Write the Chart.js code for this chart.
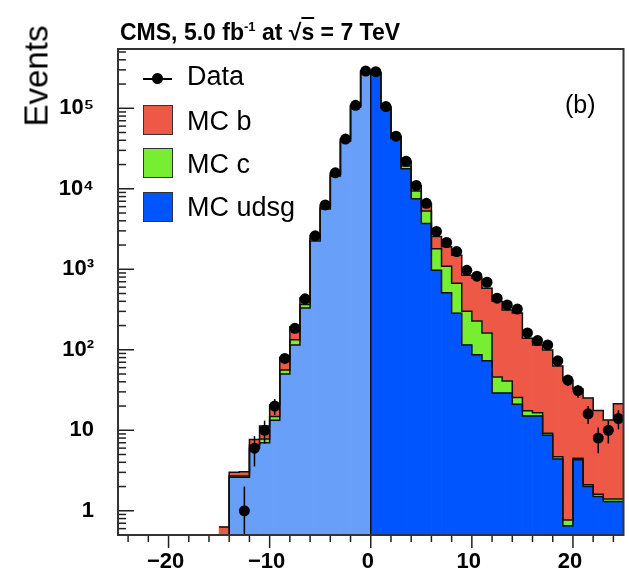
<!DOCTYPE html>
<html><head><meta charset="utf-8">
<script src="https://cdn.jsdelivr.net/npm/chart.js@4/dist/chart.umd.min.js"></script>
<style>
html,body{margin:0;padding:0;background:#fff;}
#wrap{position:relative;width:629px;height:574px;overflow:hidden;font-family:"Liberation Sans",Arial,Helvetica,sans-serif;color:#000;}
canvas{position:absolute;left:0;top:0;}
.t{position:absolute;white-space:nowrap;line-height:1;}
.box{position:absolute;width:28px;height:28px;border:1px solid #333;}
</style></head><body>
<div id="wrap">
<canvas id="c" width="629" height="574"></canvas>
<div class="t" style="left:120px;top:20px;font-weight:bold;font-size:23px;">CMS, 5.0 fb<sup style="font-size:13px;vertical-align:9px;">-1</sup> at √<span style="text-decoration:overline;">s</span> = 7 TeV</div>
<div class="t" style="left:36px;top:76px;font-size:33px;transform:translate(-50%,-50%) rotate(-90deg);">Events</div>
<div class="t" style="left:565px;top:92px;font-size:25px;">(b)</div>
<div style="position:absolute;left:143px;top:78px;width:29px;height:2px;background:#000;"></div>
<div style="position:absolute;left:152px;top:73px;width:11px;height:11px;border-radius:50%;background:#000;"></div>
<div class="t" style="left:187px;top:63px;font-size:27px;">Data</div>
<div class="box" style="left:143px;top:105px;background:#ee5846;"></div>
<div class="t" style="left:187px;top:108px;font-size:27px;">MC b</div>
<div class="box" style="left:143px;top:148px;background:#78ee32;"></div>
<div class="t" style="left:187px;top:151px;font-size:27px;">MC c</div>
<div class="box" style="left:143px;top:192px;background:#0055ff;"></div>
<div class="t" style="left:187px;top:194px;font-size:27px;">MC udsg</div>
</div>
<script>
// bin centres (bin width 1, from -25 to 25)
const binCenters = [-24.5,-23.5,-22.5,-21.5,-20.5,-19.5,-18.5,-17.5,-16.5,-15.5,
  -14.5,-13.5,-12.5,-11.5,-10.5,-9.5,-8.5,-7.5,-6.5,-5.5,
  -4.5,-3.5,-2.5,-1.5,-0.5,0.5,1.5,2.5,3.5,4.5,
  5.5,6.5,7.5,8.5,9.5,10.5,11.5,12.5,13.5,14.5,
  15.5,16.5,17.5,18.5,19.5,20.5,21.5,22.5,23.5,24.5];
const mcUdsg = [0,0,0,0,0,0,0,0,0,0,
  0.1,2.6,2.6,6.0,7.0,13.3,50,115,330,2250,
  5600,14400,39000,103000,280000,270000,100000,42000,17700,7500,
  3700,970,510,285,115,87,73,29,29,21,
  15,15,8.7,4.4,0.65,4.3,2.0,1.5,1.3,1.3];
const mcC = [0,0,0,0,0,0,0,0,0,0,
  0.03,0.1,0.1,0.5,0.8,1.5,6,18,35,150,
  300,700,1500,3500,6000,6000,3000,1800,1500,1900,
  1600,830,580,385,185,141,89,17,12,4.5,
  2.5,1.5,0.5,0.3,0.12,0.2,0.1,0.1,0.1,0.1];
const mcB = [0,0,0,0,0,0,0,0,0,0,
  0.5,0.3,0.35,1.2,3.5,6,24,60,75,230,
  400,700,1200,2500,4000,4000,2500,1200,2800,1500,
  1200,760,810,820,540,550,420,354,270,260,
  122,98,90,58,41,28,23,16,12,20];
const dataEvents = [null,null,null,null,null,null,null,null,null,null,
  null,null,1,6,10,20,78,185,430,2600,
  6300,15800,41500,109000,290000,285000,105000,45000,22000,11000,
  6600,2950,2150,1660,970,820,690,437,360,320,
  162,130,115,73,42,31,16,8,10,14];
const xTickValues = [-20,-10,0,10,20];
const xTickLabels = ['\u221220','\u221210','0','10','20'];
const yTickValues = [1,10,100,1000,10000,100000];
const yTickLabels = ['1','10','10\u00B2','10\u00B3','10\u2074','10\u2075'];

const RED='#ee5846', GREEN='#78ee32', BLUE='#0055ff', LBLUE='#689ff8';

const udsgColors = binCenters.map(c => c < 0 ? LBLUE : BLUE);
const lvlC = mcUdsg.map((u,i)=>u+mcC[i]);
const lvlB = lvlC.map((v,i)=>v+mcB[i]);
function stepPts(arr){
  const pts = binCenters.map((c,i)=>({x:c-0.5,y:arr[i]}));
  pts.push({x:binCenters[binCenters.length-1]+0.5,y:arr[arr.length-1]});
  return pts;
}
const iz = binCenters.indexOf(0.5);
const zeroLine = [{x:0,y:0.01},{x:0,y:Math.min(mcUdsg[iz-1],mcUdsg[iz])}];

const outline = (pts,st)=>({type:'line',data:pts,stepped:'before',borderColor:'#111',borderWidth:1.5,pointRadius:0,fill:false,stack:st,order:1});

const framePlugin = {
  id:'frame',
  afterDatasetsDraw(chart){
    const {ctx, chartArea:a, scales:{x,y}} = chart;
    const ds = chart.data.datasets[3].data;
    ctx.save();
    ctx.strokeStyle='#000'; ctx.lineWidth=1.5;
    ds.forEach(p=>{
      if(p.y==null) return;
      const e=Math.sqrt(p.y);
      const px=x.getPixelForValue(p.x);
      let lo = p.y-e>0 ? y.getPixelForValue(p.y-e) : a.bottom;
      let hi = y.getPixelForValue(p.y+e);
      lo=Math.min(lo,a.bottom);
      ctx.beginPath(); ctx.moveTo(px,lo); ctx.lineTo(px,hi); ctx.stroke();
    });
    ctx.restore();
  },
  afterDraw(chart){
    const {ctx, chartArea:a, scales:{x,y}} = chart;
    ctx.save();
    ctx.strokeStyle='#222'; ctx.lineWidth=1.5;
    for(let d=-1; d<=5; d++){
      for(let m=1;m<=9;m++){
        const v=m*Math.pow(10,d);
        if(v<y.min||v>y.max) continue;
        const py=y.getPixelForValue(v);
        const len = m===1?16:8;
        ctx.beginPath(); ctx.moveTo(a.left,py); ctx.lineTo(a.left+len,py); ctx.stroke();
      }
    }
    for(let v=-24; v<=24; v+=2){
      const px=x.getPixelForValue(v);
      const len = v%10===0?13:7;
      ctx.beginPath(); ctx.moveTo(px,a.bottom); ctx.lineTo(px,a.bottom+len); ctx.stroke();
    }
    ctx.strokeStyle='#333'; ctx.lineWidth=2;
    ctx.strokeRect(a.left,a.top,a.right-a.left,a.bottom-a.top);
    ctx.restore();
  }
};

new Chart(document.getElementById('c'),{
  type:'bar',
  data:{datasets:[
    {label:'MC udsg',data:binCenters.map((c,i)=>({x:c,y:mcUdsg[i]})),backgroundColor:udsgColors,stack:'mc',order:2,barPercentage:1.0,categoryPercentage:1.0,borderWidth:0},
    {label:'MC c',data:binCenters.map((c,i)=>({x:c,y:mcC[i]})),backgroundColor:GREEN,stack:'mc',order:2,barPercentage:1.0,categoryPercentage:1.0,borderWidth:0},
    {label:'MC b',data:binCenters.map((c,i)=>({x:c,y:mcB[i]})),backgroundColor:RED,stack:'mc',order:2,barPercentage:1.0,categoryPercentage:1.0,borderWidth:0},
    {type:'line',label:'Data',data:binCenters.map((c,i)=>({x:c,y:dataEvents[i]})),showLine:false,pointRadius:5.5,pointBackgroundColor:'#000',pointBorderWidth:0,borderColor:'#000',stack:'d',order:0},
    outline(stepPts(mcUdsg),'o1'),
    outline(stepPts(lvlC),'o2'),
    outline(stepPts(lvlB),'o3'),
    {type:'line',data:zeroLine,borderColor:'#111',borderWidth:1.5,pointRadius:0,fill:false,stack:'z',order:1}
  ]},
  options:{
    responsive:false,animation:false,
    layout:{padding:{top:49,right:1,left:0,bottom:0}},
    plugins:{legend:{display:false},tooltip:{enabled:false}},
    scales:{
      x:{type:'linear',min:-25,max:25,offset:false,
        grid:{display:false,drawTicks:false},border:{display:false},
        afterBuildTicks(s){s.ticks=xTickValues.map(v=>({value:v}));},
        afterFit(s){s.height=39;},
        ticks:{padding:14,labelOffset:-3,color:'#000',maxRotation:0,autoSkip:false,font:{family:'"Liberation Sans", Arial, sans-serif',size:22,weight:'bold'},
          callback:(v)=>{const k=xTickValues.indexOf(v);return k>=0?xTickLabels[k]:'';}}},
      y:{type:'logarithmic',min:0.5,max:545000,stacked:true,
        grid:{display:false,drawTicks:false},border:{display:false},
        afterBuildTicks(s){s.ticks=yTickValues.map(v=>({value:v}));},
        afterFit(s){s.width=118;},
        ticks:{padding:24,color:'#000',autoSkip:false,font:{family:'"Liberation Sans", Arial, sans-serif',size:22,weight:'bold'},
          callback:(v)=>{const k=yTickValues.indexOf(v);return k>=0?yTickLabels[k]:'';}}}
    }
  },
  plugins:[framePlugin]
});
</script>
</body></html>
